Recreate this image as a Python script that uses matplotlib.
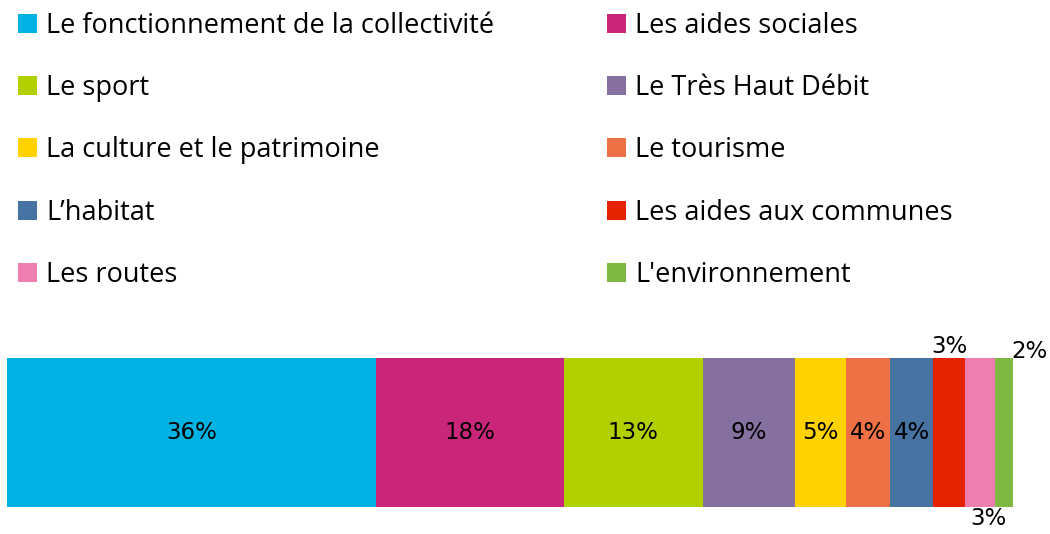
import matplotlib
matplotlib.use("Agg")
import matplotlib.pyplot as plt
from matplotlib.patches import Patch

categories = ["Le fonctionnement de la collectivité", "Les aides sociales",
              "Le sport", "Le Très Haut Débit",
              "La culture et le patrimoine", "Le tourisme",
              "L\u2019habitat", "Les aides aux communes",
              "Les routes", "L'environnement"]
values = [35.7, 18.1, 13.4, 8.9, 5.0, 4.2, 4.2, 3.1, 2.9, 1.7]
colors = ["#00B2E3", "#C9267A", "#B2CF00", "#86709F", "#FFD200",
          "#EE7145", "#4673A1", "#E52200", "#EE7DB0", "#7FB843"]

W, H = 1050, 534
fig = plt.figure(figsize=(W / 100, H / 100), dpi=100)

# bar axes : bar goes from x=7px to x=1013px
total = sum(values)
bar_px = 1006
ax = fig.add_axes([7 / W, 1 - 507 / H, bar_px / total * 100 / W, 149 / H])
ax.set_xlim(0, 100)
ax.set_ylim(-0.5, 0.5)
ax.axis("off")

fs = 16.5
left = 0
for i, (v, c) in enumerate(zip(values, colors)):
    ax.barh(0, v, left=left, height=1, color=c, edgecolor="none")
    lab = f"{v:.0f}%"
    mid = left + v / 2
    if i == 7:
        ax.annotate(lab, (mid, 0.5), xytext=(0, 0), textcoords="offset points",
                    ha="center", va="bottom", fontsize=fs, clip_on=False)
    elif i == 8:
        ax.annotate(lab, (mid, -0.5), xytext=(6, 0), textcoords="offset points",
                    ha="center", va="top", fontsize=fs, clip_on=False)
    elif i == 9:
        ax.annotate(lab, (left + v, 0.5), xytext=(-1, 5), textcoords="offset points",
                    ha="left", va="center", fontsize=fs, clip_on=False)
    else:
        ax.text(mid, 0, lab, ha="center", va="center", fontsize=fs)
    left += v

# legend, row-major order in two columns
order = [0, 2, 4, 6, 8, 1, 3, 5, 7, 9]
handles = [Patch(facecolor=colors[k], edgecolor="none") for k in order]
labels = [categories[k] for k in order]
fig.legend(handles, labels, ncol=2, loc="upper left", bbox_to_anchor=(4 / W, 1 + 2 / H),
           frameon=False, prop={"family": "Open Sans", "size": 19.5},
           handlelength=0.7, handleheight=0.7, handletextpad=0.35,
           labelspacing=1.27, columnspacing=4.17, borderpad=0)

fig.savefig("out.png", dpi=100)
